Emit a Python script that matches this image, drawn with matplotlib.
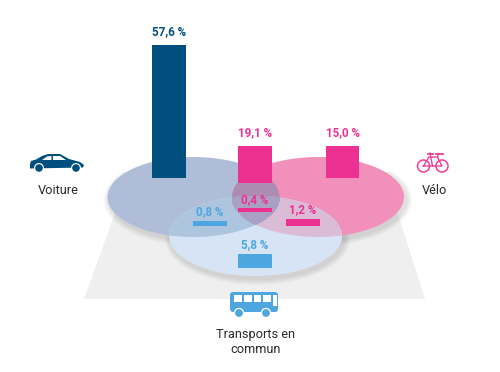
import matplotlib
matplotlib.use("Agg")
import matplotlib.pyplot as plt
import numpy as np
from matplotlib.patches import Ellipse, Polygon, Circle, FancyBboxPatch, Rectangle

# === Data ===
labels = ["57,6 %", "19,1 %", "15,0 %", "0,4 %", "0,8 %", "1,2 %", "5,8 %"]
bar_heights = [133, 37, 32, 4, 5, 7, 14]  # drawn heights
bar_centers = [169, 255, 342.5, 255, 210, 303, 255]
bar_bases = [178, 183, 178, 212, 226, 226, 268]
label_y = [32, 133, 133, 200, 212, 210, 245]
bar_colors = ["#004f7f", "#ec3192", "#ec3192", "#ec3192", "#4da6e0", "#ec3192", "#4da6e0"]
names = ["Voiture", "Vélo", "Transports en\ncommun"]

NAVY = "#004f7f"
PINK = "#ee3f98"
BLUE = "#4da6e0"
FONT = ["Roboto", "DejaVu Sans"]

fig = plt.figure(figsize=(5, 3.72), dpi=100)
ax = fig.add_axes([0, 0, 1, 1])
ax.set_xlim(0, 500)
ax.set_ylim(372, 0)
ax.axis("off")

car = ((193.5, 197), 172)
bike = ((318, 197), 172)
bus = ((255.5, 236), 173)

# === Floor and shadows ===
ax.add_patch(Polygon([(84, 299), (425, 299), (395, 205), (118, 205)], color="#efefef", lw=0))
for grow in [12, 10, 8, 6, 4, 2]:
    for c, w in (car, bike, bus):
        ax.add_patch(Ellipse((c[0] + 2, c[1] + 3), w + grow, 80 + grow, color="#666666", alpha=0.035, lw=0))
# the shadow should not spill onto the white page above the floor
ax.add_patch(Rectangle((0, 0), 500, 172, color="white", lw=0))

# === Venn ===
def oval(spec, color, clip=None):
    e = Ellipse(spec[0], spec[1], 80, color=color, lw=0)
    ax.add_patch(e)
    if clip:
        e.set_clip_path(Ellipse(clip[0], clip[1], 80, transform=ax.transData))

oval(car, "#b0bdd8")
oval(bike, "#f191bb")
oval(bus, "#d6e4f5")
oval(car, "#aec5e0", bus)
oval(bike, "#dabcd7", bus)
oval(car, "#ac8cb0", bike)

# triple overlap, three ovals cannot be clipped at once so use a mask
xx, yy = np.meshgrid(np.arange(200, 310, 0.25), np.arange(150, 260, 0.25))
inside = np.ones_like(xx, dtype=bool)
for c, w in (car, bike, bus):
    inside &= ((xx - c[0]) / (w / 2)) ** 2 + ((yy - c[1]) / 40) ** 2 < 1
ax.contourf(xx, yy, inside.astype(float), levels=[0.5, 1.5], colors=["#a9a0c4"])

# === Bars ===
ax.bar(bar_centers, bar_heights, width=33.5, bottom=[b - h for b, h in zip(bar_bases, bar_heights)],
       color=bar_colors, lw=0, zorder=3)
for x, y, lab, col in zip(bar_centers, label_y, labels, bar_colors):
    ax.text(x, y, lab, ha="center", va="center", fontsize=8.4, fontweight="bold",
            family=FONT, color=col, zorder=4)

# === Icons ===
ax.add_patch(Polygon([(30, 164), (31, 161), (36, 159.5), (42, 156), (48, 154), (60, 154), (69, 159),
                      (80, 162), (84, 165), (83, 167.5), (30, 168.5)], color=NAVY, lw=0))
ax.add_patch(Polygon([(42, 160), (47, 156.5), (51.5, 156), (51.5, 160)], color="white", lw=0))
ax.add_patch(Polygon([(53, 156), (60, 156), (66, 160), (53, 160)], color="white", lw=0))
for x in (39, 76):
    ax.add_patch(Circle((x, 168), 5, color="white", lw=0))
    ax.add_patch(Circle((x, 168), 3.8, color=NAVY, lw=0))

for x in (423.5, 442):
    ax.add_patch(Circle((x, 166), 6, fill=False, ec=PINK, lw=1.1))
ax.plot([423.5, 431, 442, 437.5, 429, 423.5], [166, 166, 166, 157, 157, 166], color=PINK, lw=1)
ax.plot([430, 432.5], [153, 166], color=PINK, lw=1)
ax.plot([427.5, 433], [153.5, 153.5], color=PINK, lw=1.3)
ax.plot([436, 443], [153.5, 153.5], color=PINK, lw=1.3)
ax.plot([438.5, 437.5], [153.5, 157], color=PINK, lw=1)

ax.add_patch(FancyBboxPatch((230, 292), 48, 20, boxstyle="round,pad=0,rounding_size=3", color=BLUE, lw=0))
for x in (234, 244, 253.5, 263):
    ax.add_patch(Rectangle((x, 295), 7.5, 6.5, color="white", lw=0))
ax.add_patch(Rectangle((273, 295), 3.5, 11, color="white", lw=0))
for x in (239, 266):
    ax.add_patch(Circle((x, 313), 5.2, color="white", lw=0))
    ax.add_patch(Circle((x, 313), 3.9, color=BLUE, lw=0))

# === Names ===
ax.text(58, 190, names[0], ha="center", va="center", fontsize=9.2, family=FONT, color="#2a2a2a")
ax.text(435, 190, names[1], ha="center", va="center", fontsize=9.2, family=FONT, color="#2a2a2a")
ax.text(256, 342, names[2], ha="center", va="center", fontsize=9.2, family=FONT, color="#2a2a2a", linespacing=1.25)

fig.savefig("out.png", dpi=100)
